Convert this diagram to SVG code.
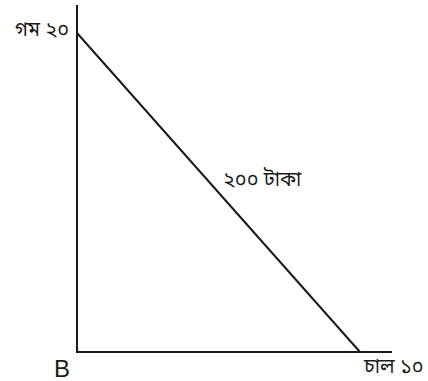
<svg xmlns="http://www.w3.org/2000/svg" width="428" height="381" viewBox="0 0 428 381">
<style>
.ax{stroke:#1a1a1a;stroke-width:2;fill:none}
.t{font-family:"Noto Sans Bengali","Noto Sans","DejaVu Sans",sans-serif;font-size:20px;fill:#1a1a1a}
.b{font-family:"Liberation Sans",Arial,sans-serif;font-size:24px;fill:#1a1a1a}
</style>
<rect width="428" height="381" fill="#fff"/>
<g id="connectors">
<path class="ax" d="M77,5 V352 H392"/>
<path class="ax" d="M77,33 L360,352"/>
</g>
<g id="label-wheat"><text class="t" x="69" y="36" text-anchor="end">গম ২০</text></g>
<g id="label-budget"><text class="t" x="223" y="186">২০০ টাকা</text></g>
<g id="label-rice"><text class="t" x="364" y="373">চাল ১০</text></g>
<g id="label-B"><text class="b" x="54" y="377">B</text></g>
</svg>
